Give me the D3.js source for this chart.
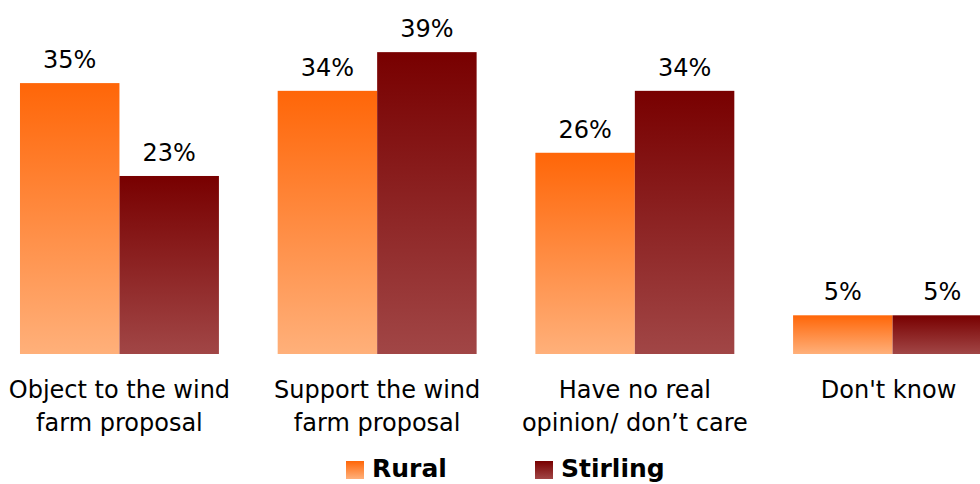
<!DOCTYPE html>
<html><head><meta charset="utf-8">
<script src="https://cdn.jsdelivr.net/npm/d3@7"></script>
<style>html,body{margin:0;padding:0;background:#fff;overflow:hidden}svg{display:block}</style>
</head><body><svg id="c" width="980" height="484"></svg>
<script>
const categories = [["Object to the wind","farm proposal"],["Support the wind","farm proposal"],["Have no real","opinion/ don\u2019t care"],["Don't know"]];
const seriesNames = ["Rural","Stirling"];
const rural = [35,34,26,5];
const stirling = [23,39,34,5];
const seriesValues = [rural, stirling];

const W=980,H=484, baseY=354, font="'DejaVu Sans', Verdana, sans-serif";
const svg=d3.select("#c");
const defs=svg.append("defs");
const grads=[["gR","#ff6608","#ffb07a"],["gS","#780000","#a14646"]];
grads.forEach(([id,a,b])=>{
  const g=defs.append("linearGradient").attr("id",id).attr("x1",0).attr("y1",0).attr("x2",0).attr("y2",1);
  g.append("stop").attr("offset","0%").attr("stop-color",a);
  g.append("stop").attr("offset","100%").attr("stop-color",b);
});
const x0=d3.scaleBand().domain(d3.range(categories.length)).range([-9.4,1021.4]).paddingInner(0.228).paddingOuter(0.114);
const x1=d3.scaleBand().domain([0,1]).range([0,x0.bandwidth()]);
const y=d3.scaleLinear().domain([0,40]).range([baseY,44.4]);

const g=svg.append("g");
seriesValues.forEach((vals,s)=>{
  vals.forEach((v,i)=>{
    const bx=x0(i)+x1(s);
    g.append("rect").attr("x",bx).attr("y",y(v)).attr("width",x1.bandwidth()).attr("height",baseY-y(v)).attr("fill",`url(#${grads[s][0]})`);
    g.append("text").attr("x",bx+x1.bandwidth()/2).attr("y",y(v)-15).attr("text-anchor","middle")
      .attr("font-family",font).attr("font-size",24).attr("fill","#000").text(v+"%");
  });
});
categories.forEach((lines,i)=>{
  const t=g.append("text").attr("text-anchor","middle").attr("font-family",font).attr("font-size",24).attr("fill","#000");
  const cx=x0(i)+x0.bandwidth()/2 - (i===3?4:0);
  lines.forEach((l,j)=>t.append("tspan").attr("x",cx).attr("y",398+j*33).text(l));
});
const legX=[346,535];
seriesNames.forEach((n,s)=>{
  svg.append("rect").attr("x",legX[s]).attr("y",461).attr("width",18).attr("height",18).attr("fill",`url(#${grads[s][0]})`);
  svg.append("text").attr("x",legX[s]+26).attr("y",477).attr("font-family",font).attr("font-weight","bold").attr("font-size",25).attr("fill","#000").text(n);
});
</script></body></html>
